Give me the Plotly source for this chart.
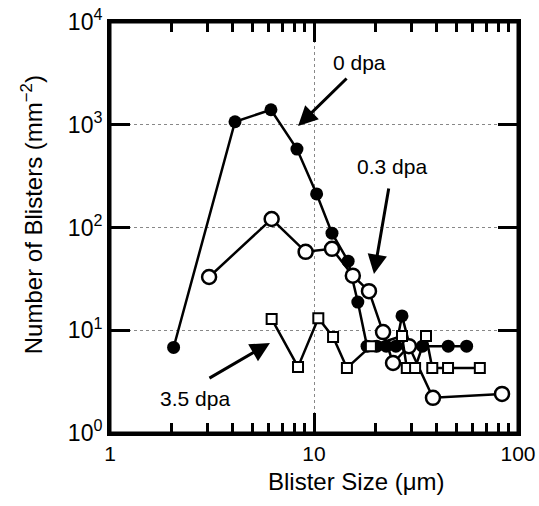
import plotly.graph_objects as go

# 0 dpa (filled circles)
size_0 = [2.05, 4.1, 6.15, 8.25, 10.3, 12.25, 14.7, 16.4, 18.2, 20.3, 22.6, 25.2, 27.0, 29.5, 34.0, 45.5, 56.0]
num_0 = [6.8, 1070, 1400, 580, 212, 88, 47, 18.8, 7.0, 7.0, 7.0, 7.0, 13.8, 7.0, 7.0, 7.0, 7.0]

# 0.3 dpa (open circles)
size_03 = [3.06, 6.2, 9.1, 12.25, 15.5, 18.6, 21.8, 24.4, 29.2, 38.3, 83.5]
num_03 = [33, 121, 58, 62, 34, 24, 9.6, 4.8, 7.0, 2.2, 2.4]

# 3.5 dpa (open squares)
size_35 = [6.2, 8.35, 10.5, 12.4, 14.5, 19.0, 27.0, 28.5, 31.3, 35.4, 38.0, 45.4, 65.0]
num_35 = [12.9, 4.4, 13.1, 8.6, 4.3, 7.0, 8.8, 4.3, 4.3, 8.8, 4.3, 4.3, 4.3]

x_ticks = [1, 10, 100]
x_ticktext = ["1", "10", "100"]
x_minor = [2, 3, 4, 5, 6, 7, 8, 9, 20, 30, 40, 50, 60, 70, 80, 90]
y_ticks = [1, 10, 100, 1000, 10000]
y_ticktext = ["10<sup>0</sup>", "10<sup>1</sup>", "10<sup>2</sup>", "10<sup>3</sup>", "10<sup>4</sup>"]

FONT = "Liberation Sans, Arial, sans-serif"

fig = go.Figure()
fig.add_trace(go.Scatter(x=size_0, y=num_0, mode="lines+markers",
                         line=dict(color="black", width=2.5),
                         marker=dict(symbol="circle", size=13, color="black"),
                         name="0 dpa"))
fig.add_trace(go.Scatter(x=size_03, y=num_03, mode="lines+markers",
                         line=dict(color="black", width=2.5),
                         marker=dict(symbol="circle", size=14, color="white",
                                     line=dict(color="black", width=2.5)),
                         name="0.3 dpa"))
fig.add_trace(go.Scatter(x=size_35, y=num_35, mode="lines+markers",
                         line=dict(color="black", width=2.5),
                         marker=dict(symbol="square", size=10, color="white",
                                     line=dict(color="black", width=2)),
                         name="3.5 dpa"))
# invisible trace that anchors the mirrored top/right axes
fig.add_trace(go.Scatter(x=size_0, y=num_0, mode="markers", xaxis="x2", yaxis="y2",
                         marker=dict(opacity=0), hoverinfo="skip", showlegend=False))

tick_style = dict(type="log", showline=True, linewidth=3, linecolor="black",
                  ticks="inside", ticklen=20, tickwidth=3, tickcolor="black",
                  zeroline=False, automargin=False)
x_minor_style = dict(tickmode="array", tickvals=x_minor, ticks="inside",
                     ticklen=10, tickwidth=3, tickcolor="black", showgrid=False)

fig.update_layout(
    xaxis=dict(range=[0, 2], tickmode="array", tickvals=x_ticks, ticktext=x_ticktext,
               tickfont=dict(size=21, color="black", family=FONT),
               showgrid=True, gridcolor="#888888", griddash="dot", gridwidth=1.2,
               minor=x_minor_style, **tick_style),
    yaxis=dict(range=[0, 4], tickmode="array", tickvals=y_ticks, ticktext=y_ticktext,
               tickfont=dict(size=23, color="black", family=FONT),
               showgrid=True, gridcolor="#888888", griddash="dot", gridwidth=1.2,
               **tick_style),
    xaxis2=dict(range=[0, 2], overlaying="x", side="top", anchor="y2",
                tickmode="array", tickvals=x_ticks, showticklabels=False,
                showgrid=False, minor=x_minor_style, **tick_style),
    yaxis2=dict(range=[0, 4], overlaying="y", side="right", anchor="x2",
                tickmode="array", tickvals=y_ticks, showticklabels=False,
                showgrid=False, **tick_style),
)

# axis titles
fig.add_annotation(x=0.603, y=-0.119, xref="paper", yref="paper", yanchor="middle",
                   xanchor="center", text="Blister Size (μm)",
                   showarrow=False, font=dict(size=24, color="black", family=FONT))
fig.add_annotation(x=-0.191, y=0.53, xref="paper", yref="paper", xanchor="center",
                   yanchor="middle",
                   text="Number of Blisters (mm<sup>−2</sup>)", textangle=-90,
                   showarrow=False, font=dict(size=24, color="black", family=FONT))

ann_font = dict(size=21, color="black", family=FONT)
# annotations (arrows and labels), positions in log10 axis units
fig.add_annotation(x=0.922, y=2.988, xref="x", yref="y", ax=50, ay=-49, text="",
                   showarrow=True, arrowhead=2, arrowsize=1.3, arrowwidth=3, arrowcolor="black")
fig.add_annotation(x=1.225, y=3.61, xref="x", yref="y", text="0 dpa", showarrow=False, font=ann_font)
fig.add_annotation(x=1.294, y=1.547, xref="x", yref="y", ax=15, ay=-87, text="",
                   showarrow=True, arrowhead=2, arrowsize=1.3, arrowwidth=3, arrowcolor="black")
fig.add_annotation(x=1.382, y=2.589, xref="x", yref="y", text="0.3 dpa", showarrow=False, font=ann_font)
fig.add_annotation(x=0.784, y=0.876, xref="x", yref="y", ax=-62, ay=36, text="",
                   showarrow=True, arrowhead=2, arrowsize=1.3, arrowwidth=3, arrowcolor="black")
fig.add_annotation(x=0.417, y=0.331, xref="x", yref="y", text="3.5 dpa", showarrow=False, font=ann_font)

# plot frame
fig.add_shape(type="rect", xref="paper", yref="paper", x0=0, y0=0, x1=1, y1=1,
              line=dict(color="black", width=3), layer="above")

fig.update_layout(width=539, height=506, showlegend=False,
                  margin=dict(l=110, r=21, t=22, b=73),
                  plot_bgcolor="white", paper_bgcolor="white",
                  font=dict(family=FONT, color="black"))

fig.write_html("out.html", config={"displayModeBar": False},
               post_script="document.body.style.margin='0';document.body.style.overflow='hidden';")
